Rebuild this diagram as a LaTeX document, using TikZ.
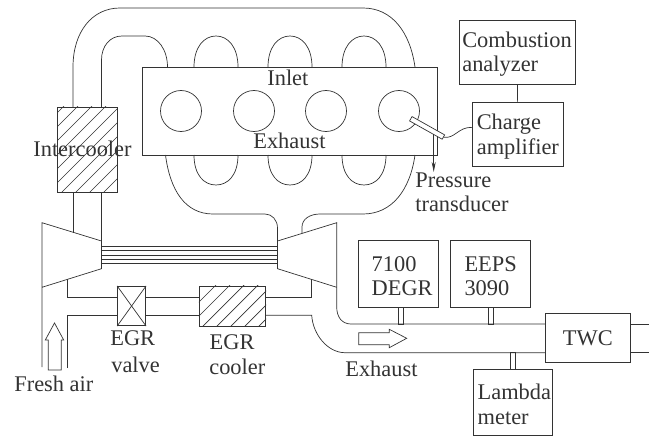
\documentclass[tikz,border=0pt]{standalone}
\usepackage{fontspec}
\setmainfont{Liberation Serif}
\usetikzlibrary{arrows.meta}
\definecolor{ink}{gray}{0.2}
\newcommand{\upstrut}{\rule{0pt}{20pt}}
% hatch lines inside a node: node, first x+y value, last x+y value
\newcommand{\hatchnode}[3]{%
  \begin{scope}
    \clip (#1.north west) rectangle (#1.south east);
    \foreach \hc in {#2,\the\numexpr#2+14\relax,...,#3}
      \draw[pipe] (\hc,0) -- (0,\hc);
  \end{scope}}
\tikzset{
  box/.style={draw=ink, rectangle, inner sep=0pt, align=left},
  stub/.style={draw=ink, rectangle, inner sep=0pt, minimum width=5pt},
  lbl/.style={inner sep=0pt, anchor=base west},
  pipe/.style={draw=ink}
}
\begin{document}
\begin{tikzpicture}[>={Stealth[width=4pt,length=10pt]}, x=1pt, y=-1pt, line width=.7pt, text=ink,
  font=\fontsize{22.4}{24.5}\selectfont]
\useasboundingbox (0,0) rectangle (656,436);
% engine block
\node[box, minimum width=294.5pt, minimum height=88pt] (engine) at (289.75,111) {};
\foreach \cx/\cname in {181/c1, 254/c2, 326/c3, 399/c4}
  \node[draw=ink, circle, inner sep=0pt, minimum size=41pt] (\cname) at (\cx,111) {};
\foreach \bx in {216,290,364} {
  \draw[pipe] (\bx-22,67) .. controls (\bx-22,47) and (\bx-12,36) .. (\bx,36)
    .. controls (\bx+12,36) and (\bx+22,47) .. (\bx+22,67);
  \draw[pipe] (\bx-22,155) .. controls (\bx-22,175) and (\bx-12,185) .. (\bx,185)
    .. controls (\bx+12,185) and (\bx+22,175) .. (\bx+22,155);
}
\node[lbl] (inlet) at (267,85) {Inlet};
\node[lbl] (exhin) at (253,148) {Exhaust};
% intercooler and charge air
\node[box, minimum width=60pt, minimum height=85.5pt] (ic) at (87.5,149.75) {};
\hatchnode{ic}{170}{310}
\node[lbl] (iclabel) at (33,156.7) {Intercooler};
\draw[pipe] (73,107) -- (73,67) .. controls (73,32) and (92,8) .. (120,8)
  -- (363,8) .. controls (392,8) and (410,32) .. (415,67);
\draw[pipe] (101.5,107) -- (101.5,60) .. controls (101.5,46) and (110,36) .. (122,36)
  -- (145,36) .. controls (158,36) and (167.5,50) .. (167.5,67);
\draw[pipe] (73,192.5) -- (73,233);
\draw[pipe] (101.5,192.5) -- (101.5,241);
% turbocharger
\draw[pipe] (42,367) -- (42,222.7) -- (101.5,241) -- (101.5,268.7) -- (42,287.3);
\draw[pipe] (277.5,241) -- (336.7,222.7) -- (336.7,307) .. controls (336.7,317) and (342,324) .. (351,324) -- (545,324);
\draw[pipe] (277.5,241) -- (277.5,268.7) -- (336.7,287.3);
\foreach \sy in {246,250.7,255,259,263.7}
  \draw[pipe] (101.5,\sy) -- (277.5,\sy);
% exhaust manifold
\draw[pipe] (277.5,241) -- (277.5,228) .. controls (277.5,220) and (272,214) .. (265,214)
  -- (213,214) .. controls (185,214) and (170,190) .. (165.5,155);
\draw[pipe] (302,233.4) -- (302,227) .. controls (302,219) and (310,214) .. (320,214)
  -- (363,214) .. controls (392,214) and (410,190) .. (415,155);
% EGR loop
\node[box, minimum width=28.2pt, minimum height=39.4pt] (valve) at (131.6,306) {};
\draw[pipe] (valve.north west) -- (valve.south east);
\draw[pipe] (valve.south west) -- (valve.north east);
\node[box, minimum width=66.4pt, minimum height=39.7pt] (egrc) at (232.5,306.15) {};
\hatchnode{egrc}{501}{600}
\draw[pipe] (67.3,279.3) -- (67.3,297.3) -- (valve.west |- 0,297.3);
\draw[pipe] (67.3,368) -- (67.3,315.3) -- (valve.west |- 0,315.3);
\draw[pipe] (valve.east |- 0,297.3) -- (egrc.west |- 0,297.3);
\draw[pipe] (valve.east |- 0,315.3) -- (egrc.west |- 0,315.3);
\draw[pipe] (egrc.east |- 0,297.3) -- (311.7,297.3) -- (311.7,279.4);
\draw[pipe] (egrc.east |- 0,315.3) -- (311.7,315.3) .. controls (313,335) and (328,352.7) .. (345,352.7) -- (545,352.7);
\node[lbl] (valvel1) at (110,345.3) {EGR};
\node[lbl] (valvel2) at (111,372.3) {valve};
\node[lbl] (coolerl1) at (209.3,349) {EGR};
\node[lbl] (coolerl2) at (209,374) {cooler};
% flow arrows
\draw[pipe] (48.3,370) -- (48.3,340) -- (45.3,340) -- (54.5,323) -- (63.7,340) -- (61.3,340) -- (61.3,370) -- cycle;
\draw[pipe] (358.7,332.7) -- (389.3,332.7) -- (389.3,329.3) -- (406.7,338.3) -- (389.3,347.7) -- (389.3,344.7) -- (358.7,344.7) -- cycle;
\node[lbl] (fresh) at (14,391) {Fresh air};
\node[lbl] (exhout) at (345,376.7) {Exhaust};
% instruments
\node[box, minimum width=116pt, minimum height=64pt, text width=110pt] (comb) at (517.3,52) {\upstrut Combustion\\analyzer};
\node[box, minimum width=91pt, minimum height=63.3pt, text width=82pt] (charge) at (517.8,134.35) {\upstrut Charge\\amplifier};
\draw[pipe] (comb) -- (charge);
\node[box, minimum width=80pt, minimum height=66.3pt, text width=54pt] (degr) at (398.7,273.85) {\upstrut 7100\\DEGR};
\node[box, minimum width=80.4pt, minimum height=66.3pt, text width=52pt] (eeps) at (490.5,273.85) {\upstrut EEPS\\3090};
\node[box, minimum width=79.3pt, minimum height=66pt, text width=70pt] (lambda) at (512.65,402.3) {\upstrut Lambda\\meter};
\node[box, minimum width=85.7pt, minimum height=49.4pt] (twc) at (587.85,338) {TWC};
\node[stub, minimum height=17pt] (s1) at (400.8,315.5) {};
\node[stub, minimum height=17pt] (s2) at (491.2,315.5) {};
\node[stub, minimum height=16.6pt] (s3) at (513,361) {};
\coordinate (outa) at (649,324);
\coordinate (outb) at (649,352.7);
\draw[pipe] (twc.east |- outa) -- (outa);
\draw[pipe] (twc.east |- outb) -- (outb);
% pressure transducer
\node[draw=ink, fill=white, rectangle, inner sep=0pt, minimum width=37.4pt, minimum height=5pt, rotate=-29.3] (probe) at (427.1,127.9) {};
\coordinate (tip) at (433.7,172);
\draw[pipe, ->] ([yshift=-4pt]probe.south -| tip) -- (tip);
\draw[pipe] (probe.east) .. controls (455,139) and (458,127) .. ([yshift=7pt]charge.west);
\node[lbl] (pt1) at (415,187.7) {Pressure};
\node[lbl] (pt2) at (415,211) {transducer};
\end{tikzpicture}
\end{document}
